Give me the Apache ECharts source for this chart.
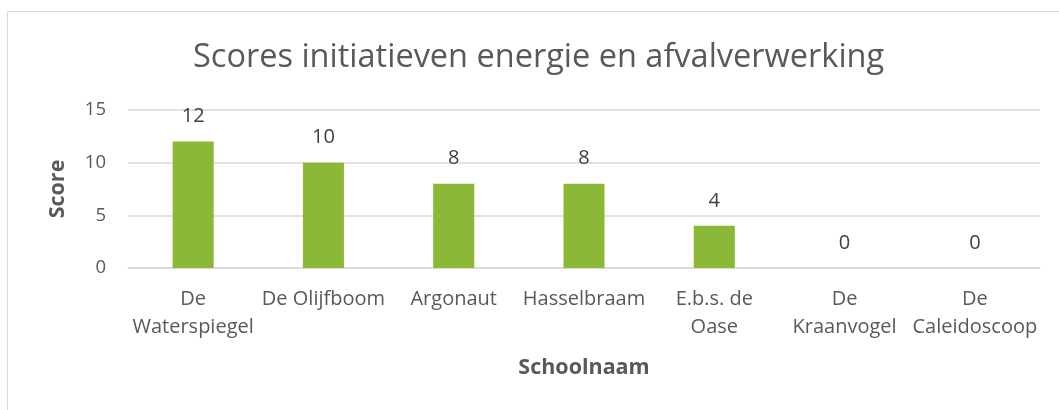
<!DOCTYPE html>
<html><head><meta charset="utf-8">
<script src="https://cdn.jsdelivr.net/npm/echarts@6/dist/echarts.min.js"></script>
<style>html,body{margin:0;padding:0;background:#fff}#c{width:1059px;height:410px}</style>
</head><body><div id="c"></div>
<script>
const categories = ["De\nWaterspiegel", "De Olijfboom", "Argonaut", "Hasselbraam", "E.b.s. de\nOase", "De\nKraanvogel", "De\nCaleidoscoop"];
const scores = [12, 10, 8, 8, 4, 0, 0];
const yTicks = [0, 5, 10, 15];

const FONT = "'Open Sans', sans-serif";
const chart = echarts.init(document.getElementById('c'));
chart.setOption({
  animation: false,
  backgroundColor: '#fff',
  graphic: [{
    type: 'rect', shape: {x: 7.5, y: 11.5, width: 1200, height: 600},
    style: {fill: 'none', stroke: '#D9D9D9', lineWidth: 1}, silent: true, z: -1
  }],
  title: {
    text: 'Scores initiatieven energie en afvalverwerking',
    left: 188, top: 36,
    textStyle: {fontFamily: FONT, fontSize: 32.5, fontWeight: 'normal', color: '#595959'}
  },
  grid: {left: 128, right: 19, top: 110, bottom: 142, containLabel: false},
  xAxis: {
    type: 'category', data: categories,
    axisLine: {lineStyle: {color: '#D9D9D9', width: 1.5}},
    axisTick: {show: false},
    axisLabel: {fontFamily: FONT, fontSize: 20, color: '#595959', margin: 17, lineHeight: 28, interval: 0},
    name: 'Schoolnaam', nameLocation: 'middle', nameGap: 89,
    nameTextStyle: {fontFamily: FONT, fontSize: 21.5, fontWeight: 'bold', color: '#595959'}
  },
  yAxis: {
    type: 'value', min: yTicks[0], max: yTicks[yTicks.length - 1], interval: 5,
    axisLine: {show: false}, axisTick: {show: false},
    splitLine: {lineStyle: {color: '#D9D9D9', width: 1.5}},
    axisLabel: {fontFamily: FONT, fontSize: 18.5, color: '#595959', margin: 22},
    name: 'Score', nameLocation: 'middle', nameGap: 59, nameRotate: 90,
    nameTextStyle: {fontFamily: FONT, fontSize: 21.5, fontWeight: 'bold', color: '#595959'}
  },
  series: [{
    type: 'bar', data: scores, barWidth: '31.5%',
    itemStyle: {color: '#8BB836'},
    label: {show: true, position: 'top', distance: 15, fontFamily: FONT, fontSize: 20, color: '#404040'}
  }]
});
</script></body></html>
